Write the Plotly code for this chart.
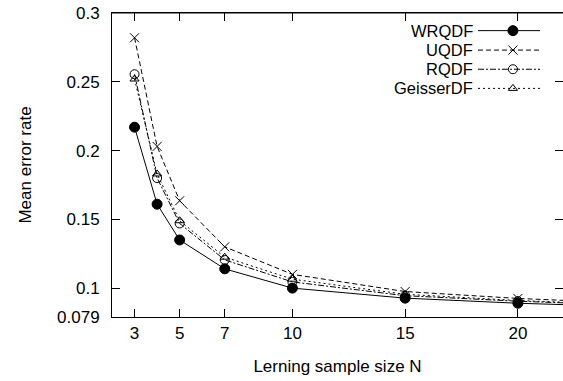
import plotly.graph_objects as go

# ---- data ----
N = [3, 4, 5, 7, 10, 15, 20, 25]
WRQDF = [0.217, 0.161, 0.135, 0.114, 0.100, 0.0927, 0.089, 0.0865]
UQDF = [0.282, 0.203, 0.1635, 0.130, 0.110, 0.0975, 0.0925, 0.0890]
RQDF = [0.2555, 0.180, 0.147, 0.1205, 0.1045, 0.0945, 0.0905, 0.0875]
GeisserDF = [0.252, 0.183, 0.149, 0.1225, 0.1065, 0.0955, 0.091, 0.088]

x_ticks = [3, 5, 7, 10, 15, 20]
y_ticks = [0.079, 0.1, 0.15, 0.2, 0.25, 0.3]
y_tick_labels = ["0.079", "0.1", "0.15", "0.2", "0.25", "0.3"]
series_names = ["WRQDF", "UQDF", "RQDF", "GeisserDF"]

FONT = "Liberation Sans, Arial, Helvetica, sans-serif"
FS = 17
LEG_FS = 16.5

styles = {
    "WRQDF": dict(dash="solid", symbol="circle", size=10),
    "UQDF": dict(dash="5px,3px", symbol="x-thin-open", size=9),
    "RQDF": dict(dash="6px,2px,2px,2px", symbol="circle-open", size=9),
    "GeisserDF": dict(dash="2px,3px", symbol="triangle-up-open", size=8),
}
series_vals = {"WRQDF": WRQDF, "UQDF": UQDF, "RQDF": RQDF, "GeisserDF": GeisserDF}

fig = go.Figure()
for name in series_names:
    st = styles[name]
    fig.add_trace(go.Scatter(
        x=N, y=series_vals[name], mode="lines+markers", name=name,
        line=dict(color="black", width=1, dash=st["dash"]),
        marker=dict(symbol=st["symbol"], size=st["size"], color="black",
                    line=dict(color="black", width=1)),
        showlegend=False, cliponaxis=True,
    ))

# ---- custom legend (text on the left, sample on the right), gnuplot style ----
leg_rows = [0.942, 0.878, 0.815, 0.752]
for name, yy in zip(series_names, leg_rows):
    st = styles[name]
    fig.add_trace(go.Scatter(
        x=[0.8115, 0.889, 0.949], y=[yy, yy, yy], xaxis="x2", yaxis="y2",
        mode="lines", line=dict(color="black", width=1, dash=st["dash"]),
        showlegend=False, hoverinfo="skip",
    ))
    fig.add_trace(go.Scatter(
        x=[0.889], y=[yy], xaxis="x2", yaxis="y2", mode="markers",
        marker=dict(symbol=st["symbol"], size=st["size"], color="black",
                    line=dict(color="black", width=1)),
        showlegend=False, hoverinfo="skip",
    ))
    fig.add_annotation(
        x=0.805, y=yy, xref="x2", yref="y2", text=name, showarrow=False,
        xanchor="right", yanchor="middle",
        font=dict(family=FONT, size=LEG_FS, color="black"),
    )

axis_common = dict(
    showline=True, linecolor="black", linewidth=1, mirror="ticks",
    ticks="inside", ticklen=8, tickwidth=1, tickcolor="black",
    showgrid=False, zeroline=False, automargin=False,
    tickfont=dict(family=FONT, size=FS, color="black"),
)

fig.update_layout(
    width=563, height=381,
    margin=dict(l=112, r=0, t=13, b=64),
    paper_bgcolor="white", plot_bgcolor="white",
    xaxis=dict(range=[2, 22], tickvals=x_ticks, ticktext=[str(v) for v in x_ticks],
               ticklabelstandoff=1,
               title=dict(text="Lerning sample size N", standoff=17,
                          font=dict(family=FONT, size=FS, color="black")),
               **axis_common),
    yaxis=dict(range=[0.079, 0.3], tickvals=y_ticks, ticktext=y_tick_labels,
               ticklabelstandoff=8,
               title=dict(text="Mean error rate", standoff=21,
                          font=dict(family=FONT, size=FS, color="black")),
               **axis_common),
    xaxis2=dict(range=[0, 1], overlaying="x", visible=False, fixedrange=True),
    yaxis2=dict(range=[0, 1], overlaying="y", visible=False, fixedrange=True),
    showlegend=False,
)
# top frame line (gnuplot border)
fig.add_shape(type="line", xref="paper", yref="paper", x0=0, x1=1, y0=1, y1=1,
              line=dict(color="black", width=1), layer="above")

# remove the default 8px page margin so the figure sits at the window's corner
fig.write_html("out.html", config={"displayModeBar": False},
               post_script="document.body.style.margin='0px';")
